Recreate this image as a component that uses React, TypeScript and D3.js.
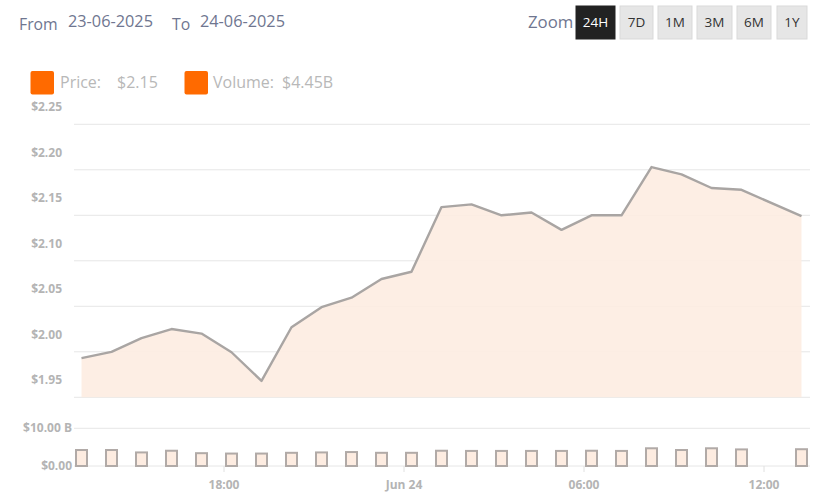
import React from "react";
import * as d3 from "d3";

const times: string[] = [
  "2025-06-23T13:15", "2025-06-23T14:15", "2025-06-23T15:15", "2025-06-23T16:15",
  "2025-06-23T17:15", "2025-06-23T18:15", "2025-06-23T19:15", "2025-06-23T20:15",
  "2025-06-23T21:15", "2025-06-23T22:15", "2025-06-23T23:15", "2025-06-24T00:15",
  "2025-06-24T01:15", "2025-06-24T02:15", "2025-06-24T03:15", "2025-06-24T04:15",
  "2025-06-24T05:15", "2025-06-24T06:15", "2025-06-24T07:15", "2025-06-24T08:15",
  "2025-06-24T09:15", "2025-06-24T10:15", "2025-06-24T11:15", "2025-06-24T13:15",
];
const prices: number[] = [
  1.993, 2.0, 2.015, 2.025, 2.02, 1.9995, 1.968, 2.027,
  2.049, 2.0595, 2.08, 2.088, 2.159, 2.162, 2.15, 2.153,
  2.134, 2.15, 2.15, 2.203, 2.195, 2.18, 2.178, 2.149,
];
const volumes: number[] = [
  4.24, 4.24, 3.6, 4.05, 3.4, 3.3, 3.3, 3.5,
  3.6, 3.7, 3.5, 3.5, 4.05, 4.0, 4.0, 4.0,
  4.0, 4.05, 4.0, 4.7, 4.24, 4.7, 4.4, 4.45,
];
const priceTicks: number[] = [1.95, 2.0, 2.05, 2.1, 2.15, 2.2, 2.25];
const volumeTicks: number[] = [0, 10];
const xTickTimes: string[] = ["2025-06-23T18:00", "2025-06-24T00:00", "2025-06-24T06:00", "2025-06-24T12:00"];
const xTickLabels: string[] = ["18:00", "Jun 24", "06:00", "12:00"];
const zoomButtons: string[] = ["24H", "7D", "1M", "3M", "6M", "1Y"];
const fromDate = "23-06-2025";
const toDate = "24-06-2025";
const legendPrice = "$2.15";
const legendVolume = "$4.45B";

const W = 825;
const H = 504;
const FONT = "'Open Sans', 'Segoe UI', sans-serif";

export default function App() {
  const parse = d3.timeParse("%Y-%m-%dT%H:%M");
  const dates = times.map((t) => parse(t) as Date);
  const x = d3
    .scaleTime()
    .domain([parse("2025-06-23T13:00") as Date, parse("2025-06-24T13:30") as Date])
    .range([74, 809]);
  const yP = d3.scaleLinear().domain([1.95, 2.25]).range([397.3, 124.3]);
  const yV = d3.scaleLinear().domain([0, 10]).range([466, 428.3]);

  const data = dates.map((d, i) => ({ d, p: prices[i], v: volumes[i] }));
  const line = d3
    .line<{ d: Date; p: number }>()
    .x((e) => x(e.d))
    .y((e) => yP(e.p));
  const area = d3
    .area<{ d: Date; p: number }>()
    .x((e) => x(e.d))
    .y0(yP(1.95))
    .y1((e) => yP(e.p));

  const btnX = [576, 620, 658, 697, 737, 777];
  const btnW = [39, 33, 34, 35, 34, 30];

  const labelColor = "#b4b4b4";
  const gridColor = "#e6e6e6";

  return (
    <svg width={W} height={H} style={{ position: "absolute", left: 0, top: 0, fontFamily: FONT }}>
      <rect width={W} height={H} fill="#fff" />
      {/* header */}
      <text x={19} y={30} fontSize={15.8} fill="#6f7690">From</text>
      <text x={68} y={27} fontSize={16.3} fill="#6f7690">{fromDate}</text>
      <text x={172} y={30} fontSize={15.8} fill="#6f7690">To</text>
      <text x={200} y={27} fontSize={16.3} fill="#6f7690">{toDate}</text>
      <text x={528} y={28} fontSize={16.8} fill="#6f7690">Zoom</text>
      {zoomButtons.map((b, i) => (
        <g key={b}>
          <rect
            x={btnX[i]}
            y={6}
            width={btnW[i]}
            height={33}
            fill={i === 0 ? "#222222" : "#e6e6e6"}
            stroke={i === 0 ? "#222222" : "#d9d9d9"}
            strokeWidth={1}
          />
          <text
            x={btnX[i] + btnW[i] / 2}
            y={27}
            fontSize={13.5}
            textAnchor="middle"
            fill={i === 0 ? "#ffffff" : "#333333"}
          >
            {b}
          </text>
        </g>
      ))}
      {/* legend */}
      <rect x={30.5} y={71} width={23.5} height={23.5} rx={2} fill="#ff6a00" />
      <text x={60} y={88} fontSize={16} fill="#b8b8b8">Price:</text>
      <text x={117} y={88} fontSize={16} fill="#b8b8b8">{legendPrice}</text>
      <rect x={184.5} y={71} width={23.5} height={23.5} rx={2} fill="#ff6a00" />
      <text x={213} y={88} fontSize={16} fill="#b8b8b8">Volume:</text>
      <text x={282} y={88} fontSize={16} fill="#b8b8b8">{legendVolume}</text>

      {/* price grid */}
      {priceTicks.map((t) => (
        <g key={"p" + t}>
          <line x1={74} x2={810} y1={yP(t)} y2={yP(t)} stroke={gridColor} strokeWidth={1} />
          <text x={62} y={yP(t) - 13} fontSize={12} fontWeight={700} textAnchor="end" fill={labelColor}>
            {"$" + t.toFixed(2)}
          </text>
        </g>
      ))}
      <path d={area(data) || ""} fill="#fdece1" opacity={0.9} />
      <path d={line(data) || ""} fill="none" stroke="#a9a5a3" strokeWidth={2.4} strokeLinejoin="round" />

      {/* volume grid */}
      {volumeTicks.map((t) => (
        <g key={"v" + t}>
          <line x1={74} x2={810} y1={yV(t)} y2={yV(t)} stroke={gridColor} strokeWidth={1} />
          <text x={72} y={yV(t) + 4} fontSize={12} fontWeight={700} textAnchor="end" fill={labelColor}>
            {t === 0 ? "$0.00" : "$" + t.toFixed(2) + " B"}
          </text>
        </g>
      ))}
      {data.map((e, i) => (
        <rect
          key={"b" + i}
          x={x(e.d) - 5.5}
          y={yV(e.v)}
          width={11}
          height={yV(0) - yV(e.v)}
          fill="#fdece1"
          stroke="#b1aaa7"
          strokeWidth={2}
        />
      ))}

      {/* x axis */}
      {xTickTimes.map((t, i) => {
        const xx = x(parse(t) as Date);
        return (
          <g key={t}>
            <line x1={xx} x2={xx} y1={466} y2={472} stroke="#e0e0e0" strokeWidth={1} />
            <text x={xx} y={489} fontSize={12} fontWeight={700} textAnchor="middle" fill={labelColor}>
              {xTickLabels[i]}
            </text>
          </g>
        );
      })}
    </svg>
  );
}
